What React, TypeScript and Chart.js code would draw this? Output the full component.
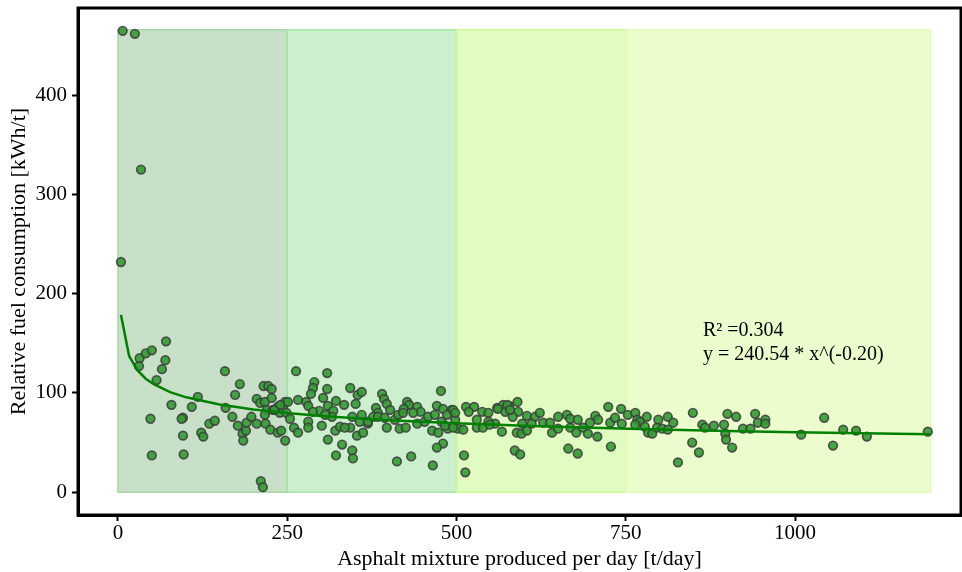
import React, { useEffect, useRef } from "react";
import { Chart, registerables } from "chart.js";
Chart.register(...registerables);

// Scatter data: asphalt produced per day [t/day] vs relative fuel consumption [kWh/t]
const pointX = [
  7, 25, 34, 4.4,
  32, 31, 41, 50, 71, 70, 65, 57, 48, 50, 79, 96, 94, 96, 97, 118, 109, 123, 126, 135, 143, 158, 159, 169, 173, 180, 177, 184, 185, 189, 190, 197, 205, 205, 215, 222, 227, 210, 217, 227, 220, 217, 218, 225, 229, 236, 239, 236, 241, 247, 247, 211, 214,
  231, 244, 240, 249,
  263, 309, 290, 288, 285, 309, 343, 354, 360, 390, 393, 477, 303, 322, 334, 351, 266, 251, 278, 281, 297, 310, 318, 381, 384, 397, 427, 430, 442, 422, 471, 480, 493, 486, 447, 254, 281, 281, 260, 266, 321, 328, 343, 353, 362, 369, 397, 416, 425, 464, 473, 487, 502, 310, 331, 346, 322, 347, 412, 433, 465, 480, 471,
  346, 357, 369, 377, 409, 442, 453, 301, 335, 288, 316, 306, 360, 384, 394, 402, 414, 421, 436, 458, 468, 478, 498, 483, 495, 495,
  514, 526, 518, 538, 498, 547, 560, 569, 578, 590, 572, 591, 604, 616, 623, 583, 547, 557, 530, 539, 510, 567, 589, 596, 604, 597, 611, 628, 638, 641, 650, 650, 663, 668, 679, 668, 677, 687, 694, 697, 705, 709, 708, 724, 727, 734, 743, 744, 728, 665, 679, 586, 594, 511, 513,
  575, 561, 579, 549, 530,
  753, 764, 767, 771, 764, 781, 778, 783, 789, 798, 796, 804, 812, 812, 820, 849, 863, 867, 880, 895, 900, 913, 897, 898, 907, 848, 858, 827, 923, 934, 941, 945, 956, 956,
  1009, 1043, 1071, 1090, 1106, 1056, 1196,
];
const pointY = [
  465, 462, 325, 232,
  135, 127, 140, 143, 152, 133, 124, 113, 74, 37, 88, 75, 74, 57, 38, 96, 86, 60, 56, 69, 72, 122, 85, 76, 98, 109, 67, 59, 52, 62, 70, 76, 69, 94, 107, 107, 104, 90, 91, 95, 83, 78, 69, 63, 83, 86, 80, 60, 62, 91, 52, 11, 5,
  83, 84, 88, 80,
  122, 120, 111, 105, 99, 104, 105, 98, 101, 99, 94, 102, 95, 92, 88, 89, 93, 91, 91, 87, 82, 87, 82, 85, 80, 89, 91, 88, 86, 84, 87, 84, 83, 78, 81, 74, 71, 65, 65, 60, 62, 66, 65, 57, 60, 69, 65, 64, 65, 62, 60, 64, 64, 53, 48, 42, 37, 34, 31, 36, 27, 49, 45,
  76, 71, 71, 76, 73, 69, 71, 67, 65, 81, 76, 78, 78, 76, 75, 83, 78, 80, 80, 76, 78, 71, 73, 67, 83, 65,
  86, 86, 81, 81, 80, 80, 85, 88, 87, 91, 81, 81, 77, 76, 80, 76, 71, 69, 65, 65, 63, 61, 60, 59, 62, 69, 69, 70, 70, 60, 64, 76, 78, 74, 73, 65, 60, 65, 59, 70, 77, 73, 56, 86, 70, 75, 84, 69, 46, 44, 39, 42, 38, 37, 20,
  88, 84, 83, 68, 73,
  78, 80, 73, 71, 68, 76, 66, 60, 59, 73, 65, 64, 76, 63, 70, 80, 68, 65, 67, 68, 79, 76, 59, 53, 45, 50, 40, 30, 64, 64, 79, 70, 73, 69,
  58, 75, 63, 62, 56, 47, 61,
];

// Fitted curve y = 240.54 * x^(-0.20), sampled values
const fitX = [4.4, 16.5, 28.6, 40.7, 52.8, 77, 101, 150, 200, 250, 300, 400, 500, 600, 700, 800, 900, 1000, 1100, 1200];
const fitY = [178.9, 137.3, 123.0, 114.6, 108.8, 100.9, 95.6, 88.3, 83.4, 79.7, 76.9, 72.6, 69.4, 66.9, 64.9, 63.2, 61.7, 60.4, 59.3, 58.3];

// Shaded production ranges
const bandStart = [0, 250, 500, 750];
const bandEnd = [250, 500, 750, 1200];
const bandBottom = 0;
const bandTop = 466;
const bandFill = ["rgb(200,224,200)", "rgb(204,240,206)", "rgb(224,252,193)", "rgb(236,253,205)"];
const bandEdge = ["rgb(165,215,165)", "rgb(165,228,165)", "rgb(205,250,150)", "rgb(226,250,190)"];

const xTickValues = [0, 250, 500, 750, 1000];
const yTickValues = [0, 100, 200, 300, 400];
const annotationLines = ["R² =0.304", "y = 240.54 * x^(-0.20)"];

const FONT = "'Liberation Serif', 'Times New Roman', serif";

export default function App() {
  const ref = useRef<HTMLCanvasElement | null>(null);

  useEffect(() => {
    document.body.style.margin = "0";
    const canvas = ref.current;
    if (!canvas) return;

    const bandsPlugin = {
      id: "bands",
      beforeDatasetsDraw(chart: any) {
        const { ctx, scales } = chart;
        const xs = scales.x;
        const ys = scales.y;
        ctx.save();
        for (let i = 0; i < bandStart.length; i++) {
          const x0 = xs.getPixelForValue(bandStart[i]);
          const x1 = xs.getPixelForValue(bandEnd[i]);
          const y0 = ys.getPixelForValue(bandTop);
          const y1 = ys.getPixelForValue(bandBottom);
          ctx.fillStyle = bandFill[i];
          ctx.fillRect(x0, y0, x1 - x0, y1 - y0);
        }
        for (let i = 0; i < bandStart.length; i++) {
          const x0 = xs.getPixelForValue(bandStart[i]);
          const x1 = xs.getPixelForValue(bandEnd[i]);
          const y0 = ys.getPixelForValue(bandTop);
          const y1 = ys.getPixelForValue(bandBottom);
          ctx.strokeStyle = bandEdge[i];
          ctx.lineWidth = 1.5;
          ctx.strokeRect(x0, y0, x1 - x0, y1 - y0);
        }
        ctx.restore();
      },
    };

    const framePlugin = {
      id: "frame",
      afterDraw(chart: any) {
        const { ctx, chartArea, scales } = chart;
        ctx.save();
        ctx.strokeStyle = "#000";
        ctx.lineWidth = 3;
        ctx.strokeRect(chartArea.left, chartArea.top, chartArea.right - chartArea.left, chartArea.bottom - chartArea.top);
        ctx.fillStyle = "#000";
        ctx.font = `20px ${FONT}`;
        ctx.textBaseline = "middle";
        ctx.textAlign = "left";
        const tx = scales.x.getPixelForValue(864);
        const ty = scales.y.getPixelForValue(163);
        ctx.fillText(annotationLines[0], tx, ty);
        ctx.fillText(annotationLines[1], tx, ty + 24);
        ctx.restore();
      },
    };

    const chart = new Chart(canvas, {
      type: "scatter",
      data: {
        datasets: [
          {
            type: "line",
            label: "fit",
            data: fitX.map((x, i) => ({ x, y: fitY[i] })),
            borderColor: "rgb(0,128,0)",
            borderWidth: 2.5,
            pointRadius: 0,
            fill: false,
            tension: 0,
            order: 0,
          } as any,
          {
            type: "scatter",
            label: "data",
            data: pointX.map((x, i) => ({ x, y: pointY[i] })),
            backgroundColor: "rgba(50,155,50,0.9)",
            borderColor: "rgba(60,60,60,0.85)",
            borderWidth: 1.7,
            pointRadius: 4.3,
            order: 1,
          },
        ],
      },
      options: {
        responsive: false,
        animation: false,
        layout: { autoPadding: false, padding: { top: 8, right: 1, left: 0, bottom: 0 } },
        plugins: {
          legend: { display: false },
          tooltip: { enabled: false },
        },
        scales: {
          x: {
            type: "linear",
            min: -59,
            max: 1245,
            afterBuildTicks: (axis: any) => {
              axis.ticks = xTickValues.map((v) => ({ value: v }));
            },
            afterFit: (s: any) => {
              s.height = 57;
              s.paddingLeft = 0;
              s.paddingRight = 0;
            },
            ticks: {
              font: { family: FONT, size: 21 },
              color: "#000",
              padding: 0,
              maxRotation: 0,
              autoSkip: false,
              callback: (v: any) => String(v),
            },
            grid: {
              drawOnChartArea: false,
              drawTicks: true,
              tickLength: 6,
              tickWidth: 2,
              tickColor: "#000",
            },
            border: { display: true, color: "#000", width: 3 },
            title: {
              display: true,
              text: "Asphalt mixture produced per day [t/day]",
              font: { family: FONT, size: 22 },
              color: "#000",
              padding: { top: 0, bottom: 0 },
            },
          },
          y: {
            type: "linear",
            min: -23,
            max: 488,
            afterBuildTicks: (axis: any) => {
              axis.ticks = yTickValues.map((v) => ({ value: v }));
            },
            afterFit: (s: any) => {
              s.width = 78;
              s.paddingTop = 0;
              s.paddingBottom = 0;
            },
            ticks: {
              font: { family: FONT, size: 21 },
              color: "#000",
              padding: 5,
              autoSkip: false,
              callback: (v: any) => String(v),
            },
            grid: {
              drawOnChartArea: false,
              drawTicks: true,
              tickLength: 6,
              tickWidth: 2,
              tickColor: "#000",
            },
            border: { display: true, color: "#000", width: 3 },
            title: {
              display: true,
              text: "Relative fuel consumption [kWh/t]",
              font: { family: FONT, size: 22 },
              color: "#000",
              padding: { top: 6, bottom: 0 },
            },
          },
        },
      },
      plugins: [bandsPlugin, framePlugin],
    });

    return () => chart.destroy();
  }, []);

  return (
    <div style={{ width: 962, height: 572 }}>
      <canvas ref={ref} width={962} height={572} style={{ display: "block" }} />
    </div>
  );
}
